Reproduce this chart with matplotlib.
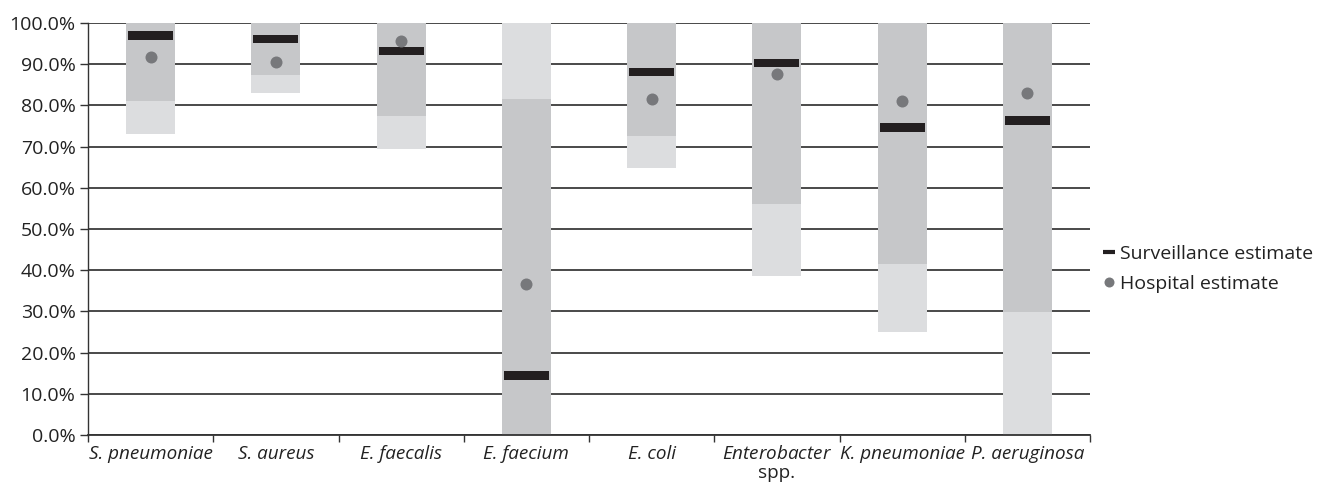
import matplotlib
matplotlib.use("Agg")
import matplotlib.pyplot as plt
from matplotlib.lines import Line2D
from matplotlib.ticker import FixedLocator, PercentFormatter

plt.rcParams['font.family'] = ['Open Sans', 'DejaVu Sans']
plt.rcParams['mathtext.fontset'] = 'custom'
plt.rcParams['mathtext.rm'] = 'Open Sans'
plt.rcParams['mathtext.it'] = 'Open Sans:italic'

categories = ["S. pneumoniae", "S. aureus", "E. faecalis", "E. faecium",
              "E. coli", "Enterobacter\nspp.", "K. pneumoniae", "P. aeruginosa"]
# light-grey band (lower, upper) and dark-grey band (lower, upper), in %
light_low = [73.0, 83.0, 69.4, 81.6, 64.9, 38.7, 25.1, 0.0]
light_high = [81.0, 87.4, 77.4, 100.0, 72.6, 56.0, 41.5, 29.9]
dark_low = [81.0, 87.4, 77.4, 0.0, 72.6, 56.0, 41.5, 29.9]
dark_high = [100.0, 100.0, 100.0, 81.6, 100.0, 100.0, 100.0, 100.0]
surveillance = [96.9, 96.1, 93.2, 14.4, 88.1, 90.3, 74.6, 76.3]
hospital = [91.7, 90.5, 95.6, 36.7, 81.6, 87.6, 81.0, 82.9]

LIGHT = "#dcdddf"
DARK = "#c6c7c9"
BLACK = "#231f20"
DOT = "#77787b"
FS = 14
XFS = 13.6


def tick_label(name):
    if "\n" in name:
        first, rest = name.split("\n", 1)
        return r"$\mathit{" + first + "}$\n" + rest
    return name


fig = plt.figure(figsize=(13.27, 4.93), dpi=100)
ax = fig.add_axes([88/1327, 58/493, (1090-88)/1327, (435-23)/493])

x = list(range(len(categories)))
w = 0.39
ax.bar(x, [h - l for l, h in zip(light_low, light_high)], bottom=light_low,
       width=w, color=LIGHT, zorder=2, linewidth=0)
ax.bar(x, [h - l for l, h in zip(dark_low, dark_high)], bottom=dark_low,
       width=w, color=DARK, zorder=2, linewidth=0)
sh = 2.1
ax.bar(x, [sh]*len(x), bottom=[s - sh/2 for s in surveillance], width=0.36,
       color=BLACK, zorder=3, linewidth=0)
ax.scatter(x, hospital, s=(12*72/100)**2, color=DOT, zorder=4, linewidths=0)

ax.set_xlim(-0.5, len(categories) - 0.5)
ax.set_ylim(0, 100)
ax.yaxis.set_major_locator(FixedLocator([i*10 for i in range(11)]))
ax.yaxis.set_major_formatter(PercentFormatter(decimals=1))
ax.grid(axis='y', color='#3a3a3a', linewidth=1.3, zorder=1)
ax.set_axisbelow(True)

ax.set_xticks(x)
ax.set_xticklabels([tick_label(c) for c in categories], fontsize=XFS,
                   linespacing=1.1, color='#222222')
for lab, name in zip(ax.get_xticklabels(), categories):
    if "\n" not in name:
        lab.set_fontstyle('italic')

ax.set_xticks([i - 0.5 for i in range(len(categories) + 1)], minor=True)
ax.tick_params(axis='x', which='major', length=0, pad=7)
ax.tick_params(axis='x', which='minor', length=5, width=1, color='#333333')
ax.tick_params(axis='y', length=6, width=1, color='#333333', labelsize=FS,
               labelcolor='#222222', pad=3)

for s in ['top', 'right']:
    ax.spines[s].set_visible(False)
ax.spines['left'].set_color('#333333')
ax.spines['bottom'].set_color('#333333')
ax.spines['left'].set_linewidth(1)
ax.spines['bottom'].set_linewidth(1.3)

handles = [
    Line2D([], [], color=BLACK, marker='_', linestyle='none', markersize=8,
           markeredgewidth=3),
    Line2D([], [], color=DOT, marker='o', linestyle='none', markersize=7.2,
           markeredgewidth=0),
]
fig.legend(handles, ["Surveillance estimate", "Hospital estimate"],
           loc='upper left', bbox_to_anchor=(1103/1327, (493-245)/493),
           frameon=False, fontsize=FS, handlelength=0.6, handletextpad=0.25,
           labelspacing=0.6, borderaxespad=0, borderpad=0,
           labelcolor='#222222')

fig.savefig("out.png", dpi=100)
